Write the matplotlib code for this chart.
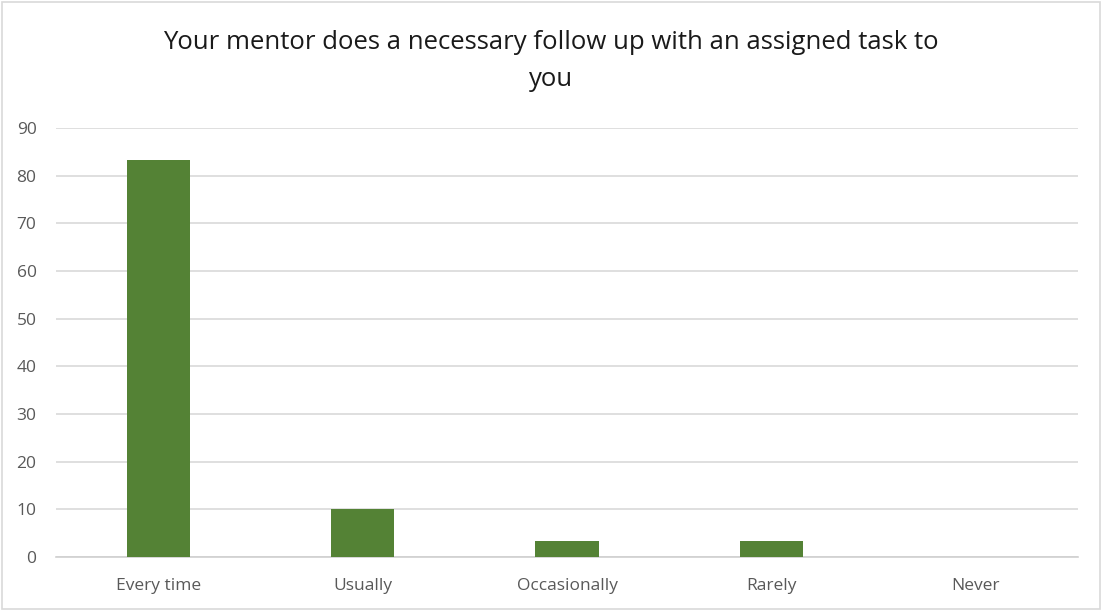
import matplotlib.pyplot as plt
from matplotlib.patches import Rectangle

categories = ["Every time", "Usually", "Occasionally", "Rarely", "Never"]
values = [83.3, 10.0, 3.3, 3.3, 0.0]
yticks = [0, 10, 20, 30, 40, 50, 60, 70, 80, 90]
title = "Your mentor does a necessary follow up with an assigned task to\nyou"


def main():
    plt.rcParams["font.family"] = ["Open Sans", "DejaVu Sans"]
    fig = plt.figure(figsize=(11.02, 6.11), dpi=100)
    ax = fig.add_axes([56 / 1102, 1 - 557 / 611, (1078 - 56) / 1102, (557 - 128) / 611])

    x = range(len(categories))
    ax.bar(x, values, width=0.31, color="#548235", zorder=3)

    ax.set_xlim(-0.5, len(categories) - 0.5)
    ax.set_ylim(0, 90)
    ax.set_yticks(yticks)
    ax.set_xticks(list(x))
    ax.set_xticklabels(categories)
    ax.tick_params(axis="both", length=0, labelsize=12.5, colors="#595959")
    ax.tick_params(axis="x", pad=15)
    ax.tick_params(axis="y", pad=14)
    ax.grid(axis="y", color="#d9d9d9", lw=1.2, zorder=0)
    for side in ["top", "right", "left"]:
        ax.spines[side].set_visible(False)
    ax.spines["bottom"].set_color("#d0d0d0")
    ax.spines["bottom"].set_linewidth(1.2)

    fig.text(0.5, 1 - 61 / 611, title, ha="center", va="center",
             fontsize=18.5, color="#1a1a1a", linespacing=1.6)
    fig.patches.append(Rectangle((0.002, 0.003), 0.996, 0.994, transform=fig.transFigure,
                                 fill=False, edgecolor="#d9d9d9", lw=1.2))

    fig.savefig("out.png", dpi=100)


if __name__ == "__main__":
    main()
